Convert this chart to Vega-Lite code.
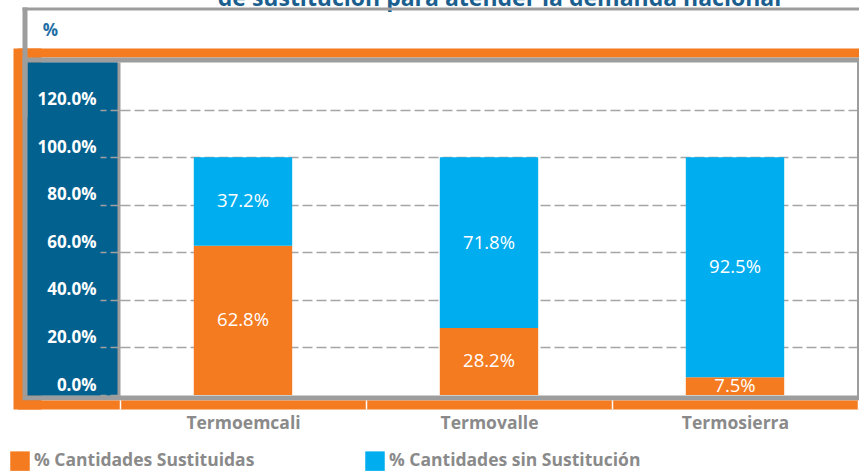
{
  "$schema": "https://vega.github.io/schema/vega-lite/v6.json",
  "width": 837,
  "height": 333,
  "autosize": {"type": "none"},
  "padding": {"left": 22, "top": 62, "right": 0, "bottom": 77},
  "background": "white",
  "title": {
    "text": "de sustitución para atender la demanda nacional",
    "anchor": "middle",
    "frame": "group",
    "offset": 1,
    "baseline": "alphabetic",
    "dx": 59,
    "dy": 23,
    "font": "Open Sans",
    "fontSize": 23,
    "fontWeight": "bold",
    "color": "#1b5f8f"
  },
  "data": {
    "values": [
      {"central": "Termoemcali", "serie": "% Cantidades Sustituidas", "valor": 0.628},
      {"central": "Termoemcali", "serie": "% Cantidades sin Sustitución", "valor": 0.372},
      {"central": "Termovalle", "serie": "% Cantidades Sustituidas", "valor": 0.282},
      {"central": "Termovalle", "serie": "% Cantidades sin Sustitución", "valor": 0.718},
      {"central": "Termosierra", "serie": "% Cantidades Sustituidas", "valor": 0.075},
      {"central": "Termosierra", "serie": "% Cantidades sin Sustitución", "valor": 0.925}
    ]
  },
  "resolve": {"axis": {"x": "independent", "y": "independent"}},
  "layer": [
    {
      "transform": [{"stack": "valor", "groupby": ["central"], "sort": [{"field": "serie", "order": "ascending"}], "as": ["v0", "v1"]}],
      "mark": {"type": "bar", "width": {"band": 0.4}},
      "encoding": {
        "x": {"field": "central", "type": "nominal",
          "scale": {"domain": ["Termoemcali", "Termovalle", "Termosierra"], "paddingInner": 0, "paddingOuter": 0.2012, "align": 0.9899},
          "axis": {"orient": "bottom", "offset": 5, "title": null, "domain": false, "grid": false,
            "ticks": true, "tickBand": "extent", "tickColor": "white", "tickWidth": 1.5, "tickSize": 9,
            "labels": true, "labelAngle": 0, "labelFont": "Open Sans", "labelFontSize": 17.5, "labelFontWeight": "bold",
            "labelColor": "#8a8a8a", "labelPadding": 5, "labelBaseline": "top", "zindex": 4}},
        "y": {"field": "v0", "type": "quantitative",
          "scale": {"domain": [0, 1.4], "nice": false},
          "axis": {"orient": "left", "offset": -98, "domain": false, "grid": false,
            "values": [0, 0.2, 0.4, 0.6, 0.8, 1.0, 1.2], "format": ".1%",
            "ticks": true, "tickSize": 20, "tickColor": "#a0a0a0", "tickDash": [10, 4], "tickWidth": 1.5,
            "labels": true, "labelColor": "white", "labelFont": "Open Sans", "labelFontSize": 17, "labelFontWeight": "bold",
            "labelPadding": 4, "labelOffset": -10, "labelFlush": false, "labelOverlap": false,
            "title": "%", "titleAngle": 0, "titleX": -70, "titleY": -32, "titleAlign": "center", "titleBaseline": "middle",
            "titleColor": "#1e6ea6", "titleFont": "Open Sans", "titleFontSize": 17, "titleFontWeight": "bold", "zindex": 4}},
        "y2": {"field": "v1"},
        "color": {"field": "serie", "type": "nominal",
          "scale": {"domain": ["% Cantidades Sustituidas", "% Cantidades sin Sustitución"], "range": ["#f47b20", "#00aeef"]},
          "legend": {"title": null, "orient": "none", "legendX": -12, "legendY": 389, "direction": "horizontal",
            "symbolType": "square", "symbolSize": 380, "symbolStrokeWidth": 0,
            "labelFont": "Open Sans", "labelFontSize": 17.5, "labelFontWeight": "bold", "labelColor": "#8a8a8a",
            "labelOffset": 4, "labelLimit": 400, "columnPadding": 110, "padding": 0}}
      }
    },
    {
      "transform": [
        {"stack": "valor", "groupby": ["central"], "sort": [{"field": "serie", "order": "ascending"}], "as": ["v0", "v1"]},
        {"fold": ["v0", "v1"], "as": ["extremo", "pos"]}
      ],
      "mark": {"type": "text", "color": "white", "font": "Open Sans", "fontSize": 18.5, "baseline": "middle", "align": "center"},
      "encoding": {
        "x": {"field": "central", "type": "nominal",
          "scale": {"domain": ["Termoemcali", "Termovalle", "Termosierra"], "paddingInner": 0, "paddingOuter": 0.2012, "align": 0.9899},
          "axis": {"orient": "top", "offset": 53.5, "title": null, "domain": true, "domainColor": "#9d9d9d", "domainWidth": 3,
            "ticks": false, "labels": false, "grid": false, "zindex": 1}},
        "y": {"aggregate": "mean", "field": "pos", "type": "quantitative",
          "scale": {"domain": [0, 1.4], "nice": false},
          "axis": {"orient": "left", "title": null, "domain": false, "ticks": false, "labels": false,
            "grid": true, "gridColor": "#a5a5a5", "gridDash": [10, 4], "gridWidth": 1.5,
            "values": [0.2, 0.4, 0.6, 0.8, 1.0, 1.2], "zindex": 0}},
        "detail": {"field": "serie", "type": "nominal"},
        "text": {"field": "valor", "type": "quantitative", "format": ".1%"}
      }
    },
    {
      "mark": {"type": "point", "opacity": 0, "size": 0},
      "encoding": {
        "x": {"field": "central", "type": "nominal",
          "scale": {"domain": ["Termoemcali", "Termovalle", "Termosierra"], "paddingInner": 0, "paddingOuter": 0.2012, "align": 0.9899},
          "axis": {"orient": "top", "offset": 9.5, "title": null, "domain": true, "domainColor": "#f47b20", "domainWidth": 9, "domainCap": "square",
            "ticks": false, "labels": false, "grid": false, "zindex": 3}},
        "y": {"field": "valor", "type": "quantitative",
          "scale": {"domain": [0, 1.4], "nice": false},
          "axis": {"orient": "left", "offset": -5, "title": null, "domain": true, "domainColor": "#f47b20", "domainWidth": 28, "domainCap": "square",
            "ticks": false, "labels": false, "grid": false, "zindex": 1}}
      }
    },
    {
      "mark": {"type": "point", "opacity": 0, "size": 0},
      "encoding": {
        "x": {"field": "central", "type": "nominal",
          "scale": {"domain": ["Termoemcali", "Termovalle", "Termosierra"], "paddingInner": 0, "paddingOuter": 0.2012, "align": 0.9899},
          "axis": {"orient": "top", "offset": 2.5, "title": null, "domain": true, "domainColor": "#9d9d9d", "domainWidth": 5,
            "ticks": false, "labels": false, "grid": false, "zindex": 3}},
        "y": {"field": "valor", "type": "quantitative",
          "scale": {"domain": [0, 1.4], "nice": false},
          "axis": {"orient": "left", "offset": -49, "title": null, "domain": true, "domainColor": "#9d9d9d", "domainWidth": 98,
            "ticks": false, "labels": false, "grid": false, "zindex": 2}}
      }
    },
    {
      "mark": {"type": "point", "opacity": 0, "size": 0},
      "encoding": {
        "x": {"field": "central", "type": "nominal",
          "scale": {"domain": ["Termoemcali", "Termovalle", "Termosierra"], "paddingInner": 0, "paddingOuter": 0.2012, "align": 0.9899},
          "axis": {"orient": "bottom", "offset": 2.5, "title": null, "domain": true, "domainColor": "#9d9d9d", "domainWidth": 5,
            "ticks": false, "labels": false, "grid": false, "zindex": 3}},
        "y": {"field": "valor", "type": "quantitative",
          "scale": {"domain": [0, 1.4], "nice": false},
          "axis": {"orient": "left", "offset": -50, "title": null, "domain": true, "domainColor": "#02618f", "domainWidth": 90,
            "ticks": false, "labels": false, "grid": false, "zindex": 3}}
      }
    },
    {
      "mark": {"type": "point", "opacity": 0, "size": 0},
      "encoding": {
        "x": {"field": "central", "type": "nominal",
          "scale": {"domain": ["Termoemcali", "Termovalle", "Termosierra"], "paddingInner": 0, "paddingOuter": 0.2012, "align": 0.9899},
          "axis": {"orient": "bottom", "offset": 9.5, "title": null, "domain": true, "domainColor": "#f47b20", "domainWidth": 9, "domainCap": "square",
            "ticks": false, "labels": false, "grid": false, "zindex": 3}},
        "y": {"field": "valor", "type": "quantitative",
          "scale": {"domain": [0, 1.4], "nice": false},
          "axis": {"orient": "right", "offset": -1, "title": null, "domain": true, "domainColor": "#9d9d9d", "domainWidth": 3, "domainCap": "square",
            "ticks": false, "labels": false, "grid": false, "zindex": 3}}
      }
    },
    {
      "mark": {"type": "point", "opacity": 0, "size": 0},
      "encoding": {
        "x": {"field": "central", "type": "nominal",
          "scale": {"domain": ["Termoemcali", "Termovalle", "Termosierra"], "paddingInner": 0, "paddingOuter": 0.2012, "align": 0.9899},
          "axis": null},
        "y": {"field": "valor", "type": "quantitative",
          "scale": {"domain": [0, 1.4], "nice": false},
          "axis": {"orient": "left", "offset": -5, "title": null, "domain": false, "labels": false, "grid": false,
            "ticks": true, "values": [1.4], "tickSize": 5, "tickWidth": 110, "tickColor": "#9d9d9d", "tickCap": "butt", "zindex": 4}}
      }
    }
  ],
  "config": {
    "view": {"stroke": null, "fill": "white"}
  }
}
